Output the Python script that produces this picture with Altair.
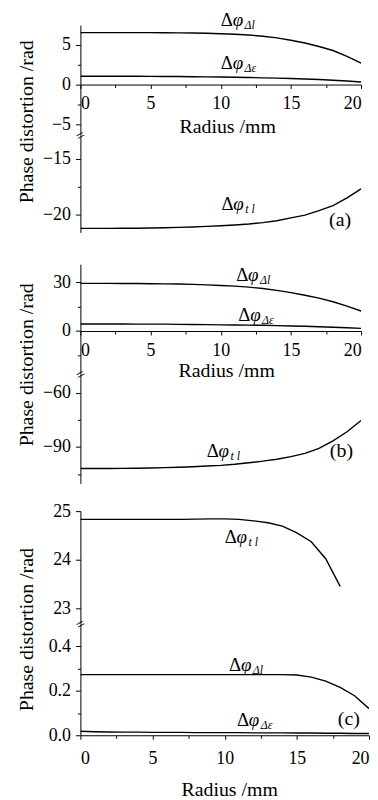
import altair as alt
import pandas as pd

FONT = "Liberation Serif"

# ---------------- data ----------------
radius = list(range(21))            # 0..20 mm
radius_c_tl = list(range(19))       # 0..18 mm

# panel (a)
a_dl = [6.55, 6.55, 6.55, 6.55, 6.55, 6.55, 6.54, 6.53, 6.51, 6.47, 6.42,
        6.35, 6.25, 6.10, 5.90, 5.60, 5.25, 4.80, 4.30, 3.55, 2.70]
a_de = [1.05, 1.05, 1.05, 1.04, 1.04, 1.03, 1.02, 1.01, 0.99, 0.97, 0.95,
        0.92, 0.89, 0.85, 0.81, 0.76, 0.70, 0.63, 0.55, 0.45, 0.33]
a_tl = [-21.24, -21.24, -21.24, -21.23, -21.22, -21.20, -21.18, -21.15, -21.11, -21.06, -21.00,
        -20.93, -20.85, -20.72, -20.55, -20.30, -20.05, -19.65, -19.20, -18.50, -17.70]

# panel (b)
b_dl = [29.3, 29.3, 29.3, 29.2, 29.2, 29.1, 29.0, 28.9, 28.7, 28.4, 28.0,
        27.6, 27.0, 26.1, 25.0, 23.6, 22.0, 20.2, 18.0, 15.3, 12.3]
b_de = [4.3, 4.3, 4.3, 4.3, 4.2, 4.2, 4.2, 4.1, 4.0, 3.9, 3.8,
        3.7, 3.6, 3.5, 3.3, 3.1, 2.9, 2.6, 2.3, 2.0, 1.6]
b_tl = [-102.0, -102.0, -102.0, -101.9, -101.8, -101.7, -101.5, -101.3, -101.0, -100.6, -100.2,
        -99.6, -98.8, -97.9, -96.8, -95.4, -93.6, -90.8, -86.6, -81.6, -75.3]

# panel (c)
c_tl = [24.83, 24.83, 24.83, 24.83, 24.83, 24.83, 24.83, 24.83, 24.835, 24.84,
        24.84, 24.83, 24.80, 24.76, 24.69, 24.55, 24.37, 24.02, 23.45]
c_dl = [0.273, 0.273, 0.273, 0.273, 0.273, 0.273, 0.273, 0.273, 0.273, 0.273, 0.273,
        0.273, 0.273, 0.273, 0.273, 0.271, 0.262, 0.244, 0.216, 0.178, 0.120]
c_de = [0.018, 0.016, 0.015, 0.014, 0.014, 0.013, 0.013, 0.013, 0.012, 0.012, 0.012,
        0.012, 0.011, 0.011, 0.011, 0.010, 0.010, 0.009, 0.009, 0.008, 0.008]

# curve labels: position (data units) and subscript
a_lab_r = [10.0, 10.0, 10.05]
a_lab_v = [8.1, 2.7, -19.1]
a_lab_sub = ["Δl", "Δε", "t l"]
b_lab_r = [11.1, 11.25, 9.0]
b_lab_v = [34.4, 10.1, -92.2]
b_lab_sub = ["Δl", "Δε", "t l"]
c_lab_r = [10.0, 10.3, 10.85]
c_lab_v = [24.46, 0.316, 0.067]
c_lab_sub = ["t l", "Δl", "Δε"]

tags = ["(a)", "(b)", "(c)"]
tag_r = [18.5, 18.6, 18.6]
tag_v = [-20.5, -92.2, 0.075]

x_major = [0, 5, 10, 15, 20]
x_minor = [2.5, 7.5, 12.5, 17.5]


def lines_df(pairs):
    rows = []
    for name, xs, ys in pairs:
        for xv, yv in zip(xs, ys):
            rows.append({"r": xv, "v": yv, "s": name})
    return pd.DataFrame(rows)


def minor_test(major):
    return f"indexof({major}, datum.value) < 0"


def label_expr(major):
    return f"indexof({major}, datum.value) >= 0 ? datum.label : ''"


def segment(df, domain, height, width, ymaj, ymin, yfmt,
            labels=None, tag=None, xaxis=None, ytitle_y=None, brk=False):
    if xaxis is None:
        xax = None
    else:
        off = xaxis["offset"]
        if off == "zero":
            off = -height * (0 - domain[0]) / (domain[1] - domain[0])
        xax = alt.Axis(values=x_major + x_minor, labelExpr=label_expr(x_major),
                       tickSize={"condition": {"test": minor_test(x_major), "value": 3}, "value": 4},
                       offset=off, labelPadding=xaxis["pad"], format="d",
                       labelOverlap=False, grid=False,
                       title="Radius /mm", titleX=xaxis["tx"], titleY=xaxis["ty"],
                       titleAlign="center", titleBaseline="middle")
    yax_kw = dict(values=ymaj + ymin, labelExpr=label_expr(ymaj),
                  tickSize={"condition": {"test": minor_test(ymaj), "value": 3}, "value": 5},
                  format=yfmt, labelPadding=5, labelOverlap=False, grid=False)
    if ytitle_y is None:
        yax = alt.Axis(title=None, **yax_kw)
    else:
        yax = alt.Axis(title="Phase distortion /rad", titleX=-54, titleY=ytitle_y,
                       titleAngle=270, titleAlign="center", titleBaseline="middle", **yax_kw)
    x = alt.X("r:Q", scale=alt.Scale(domain=[0, 20], nice=False), axis=xax)
    y = alt.Y("v:Q", scale=alt.Scale(domain=domain, nice=False, zero=False), axis=yax)

    layers = [alt.Chart(df).mark_line(color="black", strokeWidth=1.4, clip=True)
              .encode(x=x, y=y, detail="s:N")]
    if labels is not None:
        lr, lv, ls = labels
        ldf = pd.DataFrame({"r": lr, "v": lv, "sub": ls})
        base = alt.Chart(ldf)
        layers.append(base.mark_text(text="Δ", align="left", baseline="middle",
                                     font=FONT, fontSize=19, color="black").encode(x=x, y=y))
        layers.append(base.mark_text(text="φ", align="left", baseline="middle", dx=12,
                                     font=FONT, fontSize=19, fontStyle="italic",
                                     color="black").encode(x=x, y=y))
        layers.append(base.mark_text(align="left", baseline="middle", dx=24, dy=5,
                                     font=FONT, fontSize=12, fontStyle="italic",
                                     color="black").encode(x=x, y=y, text="sub:N"))
    if tag is not None:
        tdf = pd.DataFrame({"r": [tag[1]], "v": [tag[2]], "t": [tag[0]]})
        layers.append(alt.Chart(tdf).mark_text(align="center", baseline="middle",
                                               font=FONT, fontSize=20, color="black")
                      .encode(x=x, y=y, text="t:N"))
    if brk:
        bdf = pd.DataFrame({"r": [0]})
        layers.append(alt.Chart(bdf).mark_text(text="=", angle=330, fontSize=15,
                                               font=FONT, color="black")
                      .encode(x=x, y=alt.value(0)))
    return alt.layer(*layers).properties(width=width, height=height)


def spacer(h, w):
    sdf = pd.DataFrame({"r": [0]})
    return (alt.Chart(sdf).mark_point(opacity=0)
            .encode(x=alt.X("r:Q", axis=None), y=alt.Y("r:Q", axis=None))
            .properties(width=w, height=h))


WA, WC = 283, 291

a_up = segment(lines_df([("dl", radius, a_dl), ("de", radius, a_de)]),
               [-6.4, 7.5], 111, WA, [-5, 0, 5], [-2.5, 2.5], "d",
               labels=(a_lab_r[:2], a_lab_v[:2], a_lab_sub[:2]),
               xaxis={"offset": "zero", "pad": 6, "tx": 148, "ty": 42},
               ytitle_y=97)
a_low = segment(lines_df([("tl", radius, a_tl)]),
                [-21.6, -12.9], 98, WA, [-20, -15], [-17.5], "d",
                labels=(a_lab_r[2:], a_lab_v[2:], a_lab_sub[2:]),
                tag=(tags[0], tag_r[0], tag_v[0]), brk=True)

b_up = segment(lines_df([("dl", radius, b_dl), ("de", radius, b_de)]),
               [-26.6, 41.1], 111, WA, [0, 30], [-15, 15], "d",
               labels=(b_lab_r[:2], b_lab_v[:2], b_lab_sub[:2]),
               xaxis={"offset": "zero", "pad": 7, "tx": 147, "ty": 40},
               ytitle_y=101)
b_low = segment(lines_df([("tl", radius, b_tl)]),
                [-110.2, -49.7], 110, WA, [-90, -60], [-105, -75], "d",
                labels=(b_lab_r[2:], b_lab_v[2:], b_lab_sub[2:]),
                tag=(tags[1], tag_r[1], tag_v[1]), brk=True)

c_up = segment(lines_df([("tl", radius_c_tl, c_tl)]),
               [22.67, 25.0], 114, WC, [23, 24, 25], [23.5, 24.5], "d",
               labels=(c_lab_r[:1], c_lab_v[:1], c_lab_sub[:1]),
               ytitle_y=119)
c_low = segment(lines_df([("dl", radius, c_dl), ("de", radius, c_de)]),
                [0, 0.5], 112, WC, [0.0, 0.2, 0.4], [0.1, 0.3], ".1f",
                labels=(c_lab_r[1:], c_lab_v[1:], c_lab_sub[1:]),
                tag=(tags[2], tag_r[2], tag_v[2]),
                xaxis={"offset": 0, "pad": 10, "tx": 150, "ty": 55}, brk=True)

chart = (alt.vconcat(a_up, a_low, spacer(32, WA), b_up, b_low, spacer(28, WA), c_up, c_low,
                     spacing=0, bounds="flush")
         .properties(padding={"left": 9, "top": 0, "right": 0, "bottom": 0})
         .configure(font=FONT)
         .configure_view(stroke=None)
         .configure_axis(labelFont=FONT, titleFont=FONT, labelFontSize=18, titleFontSize=20,
                         titleFontWeight="normal", labelColor="black", titleColor="black",
                         domainColor="black", tickColor="black", domainWidth=1, tickWidth=1))

chart.save("out.html", embed_options={"renderer": "svg", "actions": False})
